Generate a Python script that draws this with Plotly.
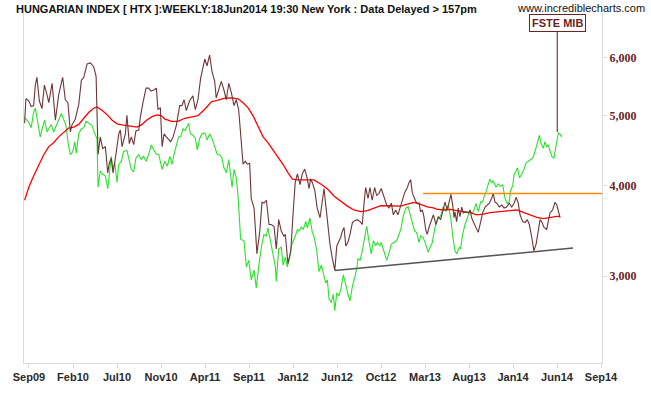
import plotly.graph_objects as go
import math

# Weeks counted from the first week of Sep 2009 (weekly bars)
htx_week = [-2.0,-1.4,-0.1,1.0,2.1,2.9,3.6,4.7,5.9,7.0,8.2,9.0,10.5,12.0,13.5,15.3,16.5,17.7,18.8,19.5,
            21.0,22.6,23.8,24.9,26.4,27.9,29.4,30.5,31.4,32.4,33.5,34.7,35.8,36.5,37.4,38.2,39.2,40.8,41.5,42.3,
            43.8,44.5,45.6,46.5,47.6,48.6,49.9,50.6,51.8,53.2,54.4,55.5,56.7,57.9,58.6,59.7,60.5,61.4,62.4,64.4,
            65.5,67.0,68.5,69.5,70.5,71.5,73.0,74.5,75.6,76.8,78.0,79.1,79.9,80.9,82.1,83.2,84.4,85.1,86.2,87.4,
            88.6,89.7,90.8,92.0,93.2,94.2,95.3,96.2,97.3,98.3,99.2,100.3,101.0,102.3,103.6,104.9,105.9,106.8,107.9,109.1,
            110.1,111.4,112.4,113.5,114.7,115.9,116.5,117.7,119.0,120.0,121.0,122.0,123.2,124.2,125.3,126.2,127.3,128.0,128.8,129.9,
            131.0,132.3,133.3,134.1,134.9,135.6,136.8,137.9,139.0,139.9,140.9,141.7,142.4,143.2,144.0,145.0,145.9,147.0,148.0,149.2,
            150.5,151.5,152.3,153.0,154.1,155.0,156.0,157.1,158.0,159.1,160.1,161.4,162.6,163.6,164.7,165.6,166.7,167.7,168.6,169.7,
            170.8,172.0,172.7,173.5,174.2,175.0,176.2,177.3,178.0,178.8,179.5,180.3,181.0,181.8,182.6,183.8,185.0,186.0,187.1,188.3,
            189.1,190.1,191.0,191.8,192.6,193.2,193.6,194.4,195.1,195.9,196.7,197.4,198.2,199.7,200.5,201.2,201.9,203.2,204.2,205.0,
            206.2,207.3,208.3,209.2,210.3,211.0,211.8,212.6,213.8,214.9,215.9,217.1,218.3,219.4,220.5,221.4,222.4,223.2,224.4,225.5,
            226.5,227.4,228.5,229.5,230.5,231.5,232.3,233.0,234.1,235.3,236.0,236.8,238.0,239.1,239.9,240.6,241.4]
htx_value = [4876,5269,5236,5140,5156,5507,5640,5236,5108,5502,5335,5204,5535,4922,5335,5640,5253,5204,4742,4847,
             4937,5172,5587,5640,5886,5904,5833,5657,4416,4669,4499,4527,4164,4295,4362,4164,4349,4713,4772,4527,
             4713,5000,4570,4669,4555,4757,4772,4968,5204,5451,5451,5401,5418,5451,5092,5124,4527,4713,4669,4598,
             4669,4847,5156,5156,5253,5076,5236,5318,5092,5253,5622,5833,5978,5851,6052,5745,5570,5285,5401,5570,
             5418,5253,5535,5368,5156,5253,5092,4669,4282,4322,4282,4295,3842,3725,3221,3459,3795,3783,3818,3535,
             3535,3513,3272,3590,3459,3406,3427,3123,3252,3646,4037,4151,4012,4151,4216,4125,3963,4087,4037,3939,
             3725,3612,3842,3963,3760,3568,3322,3172,3056,3302,3353,3395,3459,3502,3302,3343,3427,3557,3579,3590,
             3568,3535,3783,3976,3842,3976,3818,3976,3878,3903,3963,3854,3760,3725,3783,3646,3702,3646,3725,3795,
             3915,3976,4037,4074,3915,3854,3783,3783,3680,3702,3624,3480,3427,3502,3568,3646,3535,3624,3590,3725,
             3795,3702,3795,3890,3760,3612,3680,3568,3725,3624,3737,3668,3680,3668,3702,3612,3568,3502,3448,3535,
             3668,3737,3760,3783,3842,3903,3795,3783,3737,3760,3725,3737,3783,3737,3783,3854,3783,3646,3568,3557,
             3590,3535,3395,3252,3322,3459,3590,3568,3502,3480,3590,3668,3702,3795,3760,3702,3612]

mib_week = [-2.0,-0.9,0.1,1.0,2.1,2.9,4.1,5.1,6.2,7.1,8.2,9.2,10.1,11.2,12.3,13.5,14.7,15.8,16.8,18.0,
            18.8,19.9,20.8,21.5,22.6,23.8,24.9,25.9,27.1,28.6,29.9,30.9,31.4,32.4,33.5,34.7,35.8,36.5,37.4,38.0,
            39.0,40.0,40.8,42.0,43.0,44.5,45.6,46.5,47.6,48.6,49.9,51.0,52.1,53.2,54.4,55.6,56.7,57.7,59.0,60.5,
            61.7,62.9,64.0,65.0,65.9,67.0,68.0,69.0,70.0,71.0,72.0,72.6,73.3,74.5,75.6,76.5,77.6,78.6,79.9,81.0,
            82.1,83.2,84.4,85.6,86.7,87.7,88.6,89.7,90.8,91.7,92.3,93.2,94.2,95.0,96.2,97.7,98.8,99.9,101.0,102.3,
            103.3,104.4,105.6,106.8,107.9,108.6,109.9,110.9,112.0,112.4,113.5,114.7,115.5,116.5,117.4,118.5,119.5,120.8,122.0,122.7,
            123.8,124.7,125.8,126.5,127.7,128.8,129.5,130.8,131.8,132.9,133.8,134.9,135.6,136.4,137.4,138.3,139.0,139.9,140.9,141.7,
            142.9,144.0,145.0,145.9,147.0,148.0,149.0,149.5,150.5,151.5,152.6,153.5,154.5,155.6,156.5,157.6,158.3,159.5,160.1,161.0,
            161.7,162.6,163.6,164.7,165.9,167.1,168.2,169.0,170.1,171.2,172.3,173.5,174.2,175.3,176.2,177.3,178.0,179.2,180.3,181.4,
            182.3,183.3,184.5,185.6,186.5,187.6,188.3,189.5,190.6,191.7,192.6,193.6,194.4,195.6,196.2,197.1,198.2,199.2,200.5,201.2,
            202.0,203.2,204.2,205.3,206.2,207.0,207.7,208.8,209.5,210.3,211.0,212.3,213.3,214.1,215.3,216.4,217.4,218.3,218.9,219.9,
            220.5,221.4,222.0,222.9,224.0,225.0,225.9,227.0,228.0,229.0,230.0,231.0,232.0,232.7,233.8,234.5,235.3,236.0,236.8,237.6,
            238.6,239.5,240.6,241.4,242.1]
mib_value = [4968,4926,4876,4807,5045,5113,4891,4669,4817,4926,4742,4817,4857,4742,4817,4926,5030,4942,4842,4527,
             4412,4457,4598,4434,4717,4791,4807,4906,4876,4842,4717,4645,3979,4190,4147,4125,3960,4168,4389,4220,
             4299,4041,4277,4322,4457,4471,4345,4212,4177,4366,4412,4345,4389,4322,4412,4551,4481,4426,4412,4212,
             4322,4255,4389,4277,4412,4527,4669,4679,4791,4766,4832,4876,4717,4693,4645,4481,4645,4717,4728,4622,
             4717,4645,4527,4412,4412,4366,4233,4168,4345,4062,3979,4212,4103,3878,3374,3357,3090,3155,2966,3059,
             2891,3090,3289,3427,3409,3499,3339,3255,3090,2951,3272,3289,3107,3188,3090,3188,3322,3392,3480,3462,
             3505,3480,3571,3499,3609,3445,3409,3255,3044,3107,3028,2936,2966,2789,2760,2833,2690,2847,2818,2876,
             3012,2906,2833,2775,2906,2982,3075,3172,3155,3255,3392,3516,3357,3221,3357,3305,3339,3305,3339,3272,
             3238,3155,3221,3322,3339,3357,3427,3480,3627,3721,3741,3627,3553,3462,3445,3339,3409,3392,3322,3238,
             3289,3339,3499,3590,3609,3664,3741,3683,3760,3609,3409,3255,3221,3289,3272,3427,3535,3609,3702,3664,
             3683,3780,3683,3799,3799,3878,3918,4021,4083,4033,4062,3979,4021,3991,4009,3838,3779,3799,3939,4000,
             4147,4190,4233,4103,4147,4212,4299,4322,4345,4366,4457,4575,4693,4575,4504,4598,4527,4551,4481,4389,
             4366,4527,4727,4709,4669]

ma_week = [-2.0,-0.1,2.1,4.4,6.7,9.0,11.2,13.5,15.8,18.0,20.3,22.6,24.9,27.1,29.4,30.9,33.2,35.5,37.7,40.0,
           42.3,44.5,46.8,49.1,51.4,53.6,55.9,58.2,60.1,61.7,64.7,67.7,70.8,73.8,76.8,79.9,82.9,85.9,89.0,92.0,
           95.0,97.3,99.5,101.8,104.1,106.4,108.6,110.9,113.2,115.5,117.7,119.7,122.0,125.0,129.5,132.6,135.6,138.6,141.7,144.7,
           147.7,150.8,153.8,156.8,159.9,162.9,165.9,169.0,172.0,175.0,178.0,181.0,183.8,185.3,188.3,191.4,194.4,197.4,200.5,203.5,
           206.5,209.5,212.6,215.6,218.6,221.7,224.7,227.7,230.8,233.8,236.8,239.9,241.4]
ma_value = [3818,3979,4125,4277,4412,4527,4584,4669,4742,4802,4817,4857,4953,5045,5113,5135,5081,5010,4926,4866,
            4852,4842,4827,4817,4857,4926,4979,5005,4995,4942,4906,4906,4953,4968,4995,5097,5220,5247,5280,5285,
            5269,5204,5124,4995,4817,4669,4584,4481,4366,4277,4168,4083,4074,4074,4074,4021,3960,3870,3807,3748,
            3702,3683,3694,3727,3752,3752,3748,3748,3771,3792,3768,3740,3728,3713,3702,3710,3694,3683,3671,3646,
            3654,3671,3676,3683,3694,3702,3676,3646,3615,3601,3615,3627,3627]

# Trend line (support) and resistance level
support_week = [139.0, 247.3]
support_value = [3056, 3281]
resist_week = [179.1, 262.0]
resist_value = [3900, 3900]

tick_weeks = [0, 20, 40, 60, 80, 100, 120, 140, 160, 180, 200, 220, 240, 260]
tick_labels = ["Sep09", "Feb10", "Jul10", "Nov10", "Apr11", "Sep11", "Jan12", "Jun12",
               "Oct12", "Mar13", "Aug13", "Jan14", "Jun14", "Sep14"]
y_ticks = [3000, 4000, 5000, 6000]
y_labels = ["3,000", "4,000", "5,000", "6,000"]

mib_label_week = 240.1
mib_label_value = 4742

fig = go.Figure()
fig.add_trace(go.Scatter(x=mib_week, y=mib_value, mode="lines",
                         line=dict(color="#2ee02e", width=1.1), hoverinfo="skip"))
fig.add_trace(go.Scatter(x=ma_week, y=ma_value, mode="lines",
                         line=dict(color="#ff0000", width=1.3), hoverinfo="skip"))
fig.add_trace(go.Scatter(x=htx_week, y=htx_value, mode="lines",
                         line=dict(color="#6e3636", width=1.1), hoverinfo="skip"))
fig.add_trace(go.Scatter(x=resist_week, y=resist_value, mode="lines",
                         line=dict(color="#ff8800", width=1.5), hoverinfo="skip"))
fig.add_trace(go.Scatter(x=support_week, y=support_value, mode="lines",
                         line=dict(color="#555555", width=1.5), hoverinfo="skip"))

L, R, T, B = 24, 49, 13, 23
W, H = 651, 395
pw, ph = W - L - R, H - T - B

fig.update_layout(
    width=W, height=H,
    margin=dict(l=L, r=R, t=T, b=B, pad=0),
    paper_bgcolor="white", plot_bgcolor="white",
    showlegend=False,
    xaxis=dict(range=[-2.27, 260.45], tickmode="array", tickvals=tick_weeks, ticktext=tick_labels,
               showgrid=False, zeroline=False, showline=True, linecolor="#dcdcdc", linewidth=1,
               ticks="outside", ticklen=4, tickcolor="#dcdcdc",
               tickfont=dict(family="Liberation Sans, Arial", size=11, color="#2a2a2a", weight="bold")),
    yaxis=dict(type="log", range=[3.3575, 3.8400], side="right", tickmode="array",
               tickvals=y_ticks, ticktext=y_labels, showgrid=False, zeroline=False,
               showline=True, mirror=True, linecolor="#dcdcdc", linewidth=1,
               ticks="outside", ticklen=4, tickcolor="#dcdcdc",
               tickfont=dict(family="Liberation Serif, Times New Roman", size=12, color="#6b1f1f", weight="bold")),
)

# right axis line continues to the top of the image
fig.add_shape(type="line", xref="paper", yref="paper", x0=1, x1=1, y0=1, y1=1 + T / ph,
              line=dict(color="#dcdcdc", width=1))

fig.add_annotation(xref="paper", yref="paper", x=(14 - L) / pw, y=1 + (T - 9) / ph,
                   xanchor="left", yanchor="middle", showarrow=False,
                   text="HUNGARIAN INDEX [ HTX ]:WEEKLY:18Jun2014 19:30 New York : Data Delayed > 157pm",
                   font=dict(family="Liberation Sans, Arial", size=11, color="#111111", weight="bold"))
fig.add_annotation(xref="paper", yref="paper", x=(647 - L) / pw, y=1 + (T - 8) / ph,
                   xanchor="right", yanchor="middle", showarrow=False,
                   text="www.incrediblecharts.com",
                   font=dict(family="Liberation Sans, Arial", size=11, color="#111111"))
fig.add_annotation(x=mib_label_week, y=math.log10(mib_label_value), xref="x", yref="y",
                   text="FSTE MIB", showarrow=True, arrowhead=0, arrowwidth=1, arrowcolor="#5a1a1a",
                   ax=0, ay=-109, standoff=0,
                   bordercolor="#6b2525", borderwidth=1, borderpad=2, bgcolor="white",
                   font=dict(family="Liberation Sans, Arial", size=11, color="#6b1f1f", weight="bold"))

fig.write_html("out.html")
